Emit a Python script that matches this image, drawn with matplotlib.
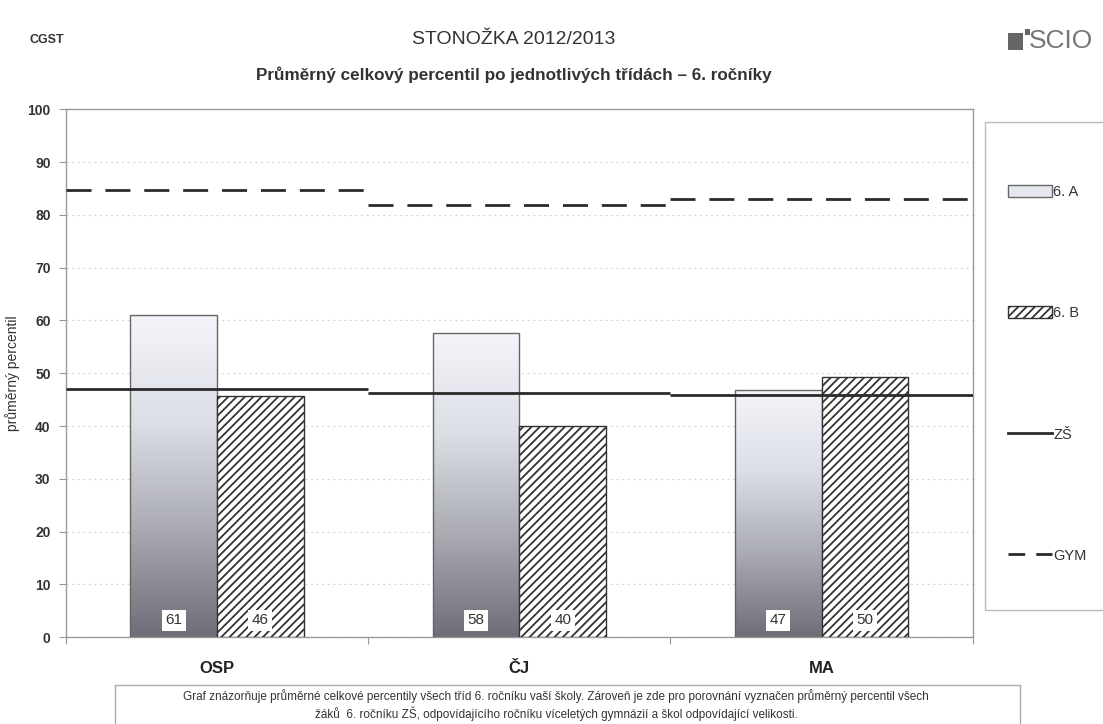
import numpy as np
import matplotlib
matplotlib.use("Agg")
import matplotlib.pyplot as plt
from matplotlib.patches import Patch, Rectangle
from matplotlib.lines import Line2D
from matplotlib.colors import LinearSegmentedColormap

# Data
categories = ['OSP', 'ČJ', 'MA']
class_a = [61.0, 57.6, 46.8]
class_b = [45.6, 40.0, 49.3]
label_a = ['61', '58', '47']
label_b = ['46', '40', '50']
zs_avg = [47.0, 46.2, 45.9]
gym_avg = [84.8, 81.8, 83.1]
yticks = list(range(0, 101, 10))

TEXT = '#333333'
GRID = '#d8d8d8'
EDGE = '#666666'

plt.rcParams['font.family'] = ['Liberation Sans', 'DejaVu Sans']
plt.rcParams['hatch.linewidth'] = 1.3

fig = plt.figure(figsize=(11.03, 7.24), dpi=100)
ax = fig.add_axes([0.0598, 0.120, 0.822, 0.729])

x = np.arange(len(categories))
w = 0.287

# gradient for 6. A bars: light at top, dark gray at bottom
grad_cmap = LinearSegmentedColormap.from_list('g', ['#6e6e78', '#a9aab2', '#dcdee6', '#f4f5fa'])
grad = np.linspace(0, 1, 256).reshape(-1, 1)

bars_a = ax.bar(x - w / 2, class_a, w, facecolor='none', edgecolor=EDGE, linewidth=1, zorder=3)
for b in bars_a:
    x0 = b.get_x()
    im = ax.imshow(grad, cmap=grad_cmap, origin='lower', aspect='auto',
                   extent=(x0, x0 + b.get_width(), 0, b.get_height()), zorder=2)
    im.set_clip_path(b)

bars_b = ax.bar(x + w / 2, class_b, w, facecolor='white', edgecolor='#333333',
                hatch='////', linewidth=1, zorder=3)

# ZŠ and GYM averages per category
for i in range(len(categories)):
    ax.hlines(zs_avg[i], i - 0.5, i + 0.5, colors='#2a2a2a', linewidth=2, zorder=4)
    ax.hlines(gym_avg[i], i - 0.5, i + 0.5, colors='#2a2a2a', linewidth=2,
              linestyles=(0, (9, 5)), zorder=4)

# value labels near the bottom of bars
for bars, labs in ((bars_a, label_a), (bars_b, label_b)):
    for b, t in zip(bars, labs):
        ax.text(b.get_x() + b.get_width() / 2, 3.2, t, ha='center', va='center',
                fontsize=11, color=TEXT, zorder=5,
                bbox=dict(facecolor='white', edgecolor='none', pad=2.5))

ax.set_xlim(-0.5, len(categories) - 0.5)
ax.set_ylim(0, 100)
ax.set_yticks(yticks)
ax.set_yticklabels([str(v) for v in yticks], fontsize=10, fontweight='bold', color=TEXT)
ax.set_xticks(np.arange(-0.5, len(categories), 1.0))
ax.set_xticklabels([])
ax.set_xticks(x, minor=True)
ax.set_xticklabels(categories, minor=True, fontsize=12, fontweight='bold', color='#222222')
ax.tick_params(axis='x', which='minor', length=0, pad=17)
ax.tick_params(axis='x', which='major', length=5, color='#999999', direction='out')
ax.tick_params(axis='y', length=5, color='#999999', pad=6)
ax.yaxis.grid(True, color=GRID, linestyle=(0, (2, 3)), linewidth=0.8)
ax.set_axisbelow(True)
for s in ax.spines.values():
    s.set_color('#999999')
    s.set_linewidth(1)
ax.set_ylabel('průměrný percentil', fontsize=10, color=TEXT)
ax.yaxis.set_label_coords(-0.051, 0.5)

# legend box
fig.patches.append(Rectangle((985 / 1103, 1 - 610 / 724), 0.2, (610 - 122) / 724,
                             transform=fig.transFigure, facecolor='white',
                             edgecolor='#bbbbbb', linewidth=1))
handles = [Patch(facecolor='#e6e8f0', edgecolor=EDGE, linewidth=1),
           Patch(facecolor='white', edgecolor='#333333', hatch='////', linewidth=1),
           Line2D([], [], color='#2a2a2a', linewidth=2),
           Line2D([], [], color='#2a2a2a', linewidth=2, linestyle=(0, (6, 4)))]
fig.legend(handles, ['6. A', '6. B', 'ZŠ', 'GYM'], loc='upper left',
           bbox_to_anchor=(995 / 1103, 1 - 172 / 724), frameon=False,
           fontsize=10.5, labelspacing=7.35, handlelength=3.0, handleheight=0.9,
           handletextpad=0.1, labelcolor=TEXT)

# header texts
fig.text(30 / 1103, 1 - 40 / 724, 'CGST', fontsize=9, fontweight='bold', color=TEXT, va='center')
fig.text(514 / 1103, 1 - 40 / 724, 'STONOŽKA 2012/2013', fontsize=14, color=TEXT,
         ha='center', va='center')
fig.text(514 / 1103, 1 - 75 / 724, 'Průměrný celkový percentil po jednotlivých třídách – 6. ročníky',
         fontsize=12.3, fontweight='bold', color=TEXT, ha='center', va='center')

# SCIO logo
fig.patches.append(Rectangle((1008 / 1103, 1 - 50 / 724), 15 / 1103, 17 / 724,
                             transform=fig.transFigure, facecolor='#666666', edgecolor='none'))
fig.patches.append(Rectangle((1025 / 1103, 1 - 35 / 724), 5 / 1103, 6 / 724,
                             transform=fig.transFigure, facecolor='#666666', edgecolor='none'))
fig.text(1029 / 1103, 1 - 41 / 724, 'SCIO', fontsize=19, color='#777777', va='center')

# bottom caption box
fig.patches.append(Rectangle((115 / 1103, -0.05), (1020 - 115) / 1103, 0.05 + (724 - 685) / 724,
                             transform=fig.transFigure, facecolor='white',
                             edgecolor='#aaaaaa', linewidth=1))
fig.text(556 / 1103, 1 - 705 / 724,
         'Graf znázorňuje průměrné celkové percentily všech tříd 6. ročníku vaší školy. '
         'Zároveň je zde pro porovnání vyznačen průměrný percentil všech\n'
         'žáků  6. ročníku ZŠ, odpovídajícího ročníku víceletých gymnázií a škol odpovídající velikosti.',
         fontsize=8.5, color=TEXT, ha='center', va='center', linespacing=1.3)

fig.savefig('out.png', dpi=100, facecolor='white')
